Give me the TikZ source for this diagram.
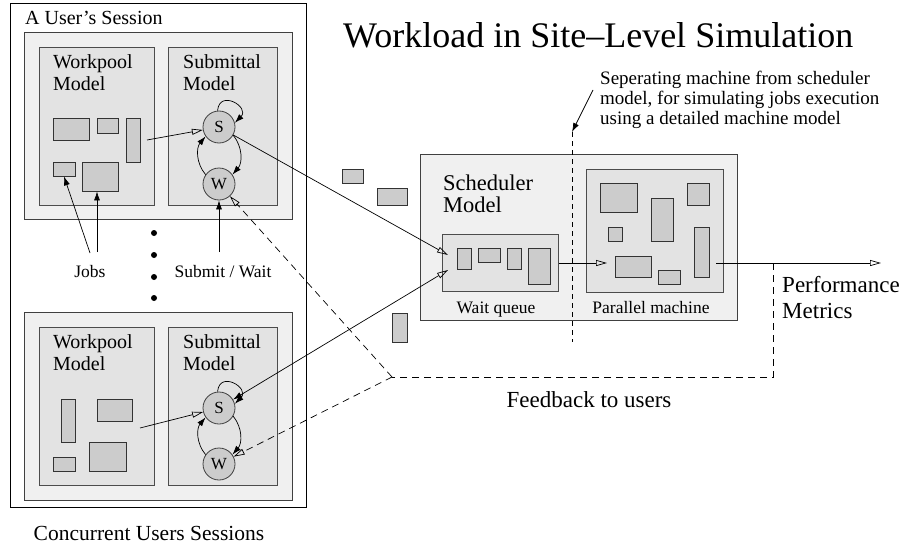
\documentclass[tikz,border=0pt]{standalone}
\usepackage{fontspec}
\setmainfont{Liberation Serif}
\usetikzlibrary{arrows.meta}

\begin{document}
\begin{tikzpicture}[x=1pt,y=1pt,
  outer/.style={draw=black,fill=white,line width=0.9pt,anchor=north west,inner sep=0pt},
  session/.style={draw=black!75,fill=black!6,line width=1pt,anchor=north west,inner sep=0pt},
  model/.style={draw=black!70,fill=black!11,line width=1pt,anchor=north west,inner sep=0pt},
  job/.style={draw=black!80,fill=black!20,line width=0.8pt,inner sep=0pt},
  state/.style={circle,draw=black!75,fill=black!20,line width=0.8pt,minimum size=32pt,inner sep=0pt,font=\fontsize{17}{17}\selectfont},
  big/.style={inner sep=0pt,align=left,font=\fontsize{20}{22}\selectfont},
  small/.style={inner sep=0pt,font=\fontsize{17.5}{20}\selectfont},
  openarr/.style={-{Triangle[open,length=11pt,width=6pt]},line width=0.7pt},
  fillarr/.style={-{Latex[length=9pt,width=6pt]},line width=0.7pt},
  fb/.style={dash pattern=on 7pt off 5pt,line width=0.9pt},
  sep/.style={dash pattern=on 5pt off 4pt,line width=0.7pt}]
\useasboundingbox (0,0) rectangle (909,-543);
% Drawing boxes
\node[outer, minimum width=296pt, minimum height=504pt] (users) at (10,-3) {};
\node[session, minimum width=268pt, minimum height=187pt] (sess1) at (24,-32) {};
\node[model, minimum width=115pt, minimum height=158pt] (wp1) at (39,-47) {};
\node[model, minimum width=109pt, minimum height=158pt] (sm1) at (168,-47) {};
\node[session, minimum width=268pt, minimum height=188pt] (sess2) at (24,-312) {};
\node[model, minimum width=115pt, minimum height=158pt] (wp2) at (39,-327) {};
\node[model, minimum width=109pt, minimum height=158pt] (sm2) at (168,-327) {};
\node[session, minimum width=317pt, minimum height=166pt] (sched) at (420,-154) {};
\node[model, minimum width=116pt, minimum height=57pt] (queue) at (442,-234) {};
\node[model, minimum width=137pt, minimum height=123pt] (mach) at (586,-169) {};
% Done with boxes; drawing labels
\node[anchor=base west, font=\fontsize{36}{40}\selectfont, inner sep=0pt] (title) at (343,-48) {Workload in Site--Level Simulation};
\node[big, anchor=base west] (sesslbl) at (25,-25) {A User's Session};
\node[big, anchor=base west] (wp1lbl) at (53,-90) {Workpool\\Model};
\node[big, anchor=base west] (sm1lbl) at (183,-90) {Submittal\\Model};
\node[big, anchor=base west] (wp2lbl) at (53,-370) {Workpool\\Model};
\node[big, anchor=base west] (sm2lbl) at (183,-370) {Submittal\\Model};
\node[small, anchor=base] (jobs) at (90,-277) {Jobs};
\node[small, anchor=base] (sw) at (223,-277) {Submit / Wait};
\node[big, anchor=base, font=\fontsize{21.5}{24}\selectfont] (concur) at (149,-540) {Concurrent Users Sessions};
\node[big, anchor=base west, font=\fontsize{22.5}{22}\selectfont] (schedlbl) at (443,-212) {Scheduler\\Model};
\node[small, anchor=base] (wqlbl) at (496,-313) {Wait queue};
\node[small, anchor=base] (pmlbl) at (651,-313) {Parallel machine};
\node[big, anchor=base west, font=\fontsize{23}{26}\selectfont] (perflbl) at (782,-318) {Performance\\Metrics};
\node[big, anchor=base, font=\fontsize{23}{26}\selectfont] (fblbl) at (589,-407) {Feedback to users};
\node[big, anchor=base west, font=\fontsize{19}{20}\selectfont] (note) at (600,-124) {Seperating machine from scheduler\\model, for simulating jobs execution\\using a detailed machine model};
% Jobs in the workpools
\node[job, minimum width=36pt, minimum height=22pt] (j1) at (71,-129) {};
\node[job, minimum width=21pt, minimum height=15pt] (j2) at (107.5,-125.5) {};
\node[job, minimum width=14pt, minimum height=44pt] (j3) at (133,-140) {};
\node[job, minimum width=22pt, minimum height=14pt] (j4) at (64,-169) {};
\node[job, minimum width=36pt, minimum height=29pt] (j5) at (100,-176.5) {};
\node[job, minimum width=14pt, minimum height=43pt] (k1) at (68,-420.5) {};
\node[job, minimum width=35pt, minimum height=22pt] (k2) at (114.5,-410) {};
\node[job, minimum width=37pt, minimum height=29pt] (k3) at (107.5,-456.5) {};
\node[job, minimum width=22pt, minimum height=14pt] (k4) at (64,-464) {};
% Jobs on their way
\node[job, minimum width=21pt, minimum height=14pt] (f1) at (352.5,-176) {};
\node[job, minimum width=30pt, minimum height=17pt] (f2) at (392,-196.5) {};
\node[job, minimum width=15pt, minimum height=29pt] (f3) at (399.5,-327.5) {};
% Jobs in the wait queue
\node[job, minimum width=14pt, minimum height=21pt] (q1) at (464,-258.5) {};
\node[job, minimum width=22pt, minimum height=14pt] (q2) at (489,-255) {};
\node[job, minimum width=14pt, minimum height=21pt] (q3) at (514,-258.5) {};
\node[job, minimum width=22pt, minimum height=36pt] (q4) at (539,-266) {};
% Jobs on the parallel machine
\node[job, minimum width=37pt, minimum height=29pt] (m1) at (618.5,-197.5) {};
\node[job, minimum width=22pt, minimum height=43pt] (m2) at (662,-219.5) {};
\node[job, minimum width=22pt, minimum height=22pt] (m3) at (698,-194) {};
\node[job, minimum width=14pt, minimum height=14pt] (m4) at (615,-234) {};
\node[job, minimum width=15pt, minimum height=50pt] (m5) at (701.5,-252) {};
\node[job, minimum width=36pt, minimum height=21pt] (m6) at (633,-266.5) {};
\node[job, minimum width=22pt, minimum height=14pt] (m7) at (669,-277) {};
% Dots between the sessions
\foreach \y in {233,255,277,298}
  \fill (154,-\y) circle (3pt);
% Submittal states
\node[state] (s1) at (219,-127) {S};
\node[state] (w1) at (219,-184) {W};
\node[state] (s2) at (219,-408) {S};
\node[state] (w2) at (219,-464) {W};
\foreach \s/\w in {s1/w1,s2/w2} {
  \draw[fillarr] (\s.95) .. controls +(85:22) and +(45:22) .. (\s.15);
  \draw[fillarr] (\s.-30) to[bend left=40] (\w.35);
  \draw[fillarr] (\w.145) to[bend left=40] (\s.-145);
}
% Done with states; drawing connectors
\coordinate (wp1out) at (147,-140);
\coordinate (wp2out) at (140,-428);
\draw[openarr] (wp1out) -- (s1);
\draw[openarr] (wp2out) -- (s2);
\coordinate (jba) at (90,-253);
\coordinate (jbb) at (97,-252);
\draw[fillarr] (jba) -- (j4.south);
\draw[fillarr] (jbb) -- (jbb |- j5.south);
\coordinate (swtop) at (219,-252);
\draw[fillarr] (swtop) -- (w1);
\coordinate (qin1) at (448,-255);
\coordinate (qin2) at (448,-270);
\draw[openarr] (s1) -- (qin1);
\draw[{Latex[length=9pt,width=6pt]}-{Triangle[open,length=11pt,width=6pt]},line width=0.7pt] (s2) -- (qin2);
\coordinate (min) at (607,-263);
\draw[openarr] (queue.east |- min) -- (min);
\coordinate (mout) at (716,-263);
\coordinate (perf) at (881,-263);
\draw[openarr] (mout) -- (perf);
% Feedback to the users
\coordinate (tap) at (773,-263);
\coordinate (fbr) at (773,-377);
\coordinate (fbc) at (392,-377);
\draw[fb] (tap) -- (fbr) -- (fbc);
\draw[fb,openarr] (fbc) -- (w1);
\draw[fb,openarr] (fbc) -- (w2);
% Separating line and its note
\coordinate (septop) at (572,-132);
\coordinate (sepbot) at (572,-342);
\draw[sep] (septop) -- (sepbot);
\coordinate (noteptr) at (593,-90);
\draw[fillarr] (noteptr) -- (septop);
\end{tikzpicture}
\end{document}
